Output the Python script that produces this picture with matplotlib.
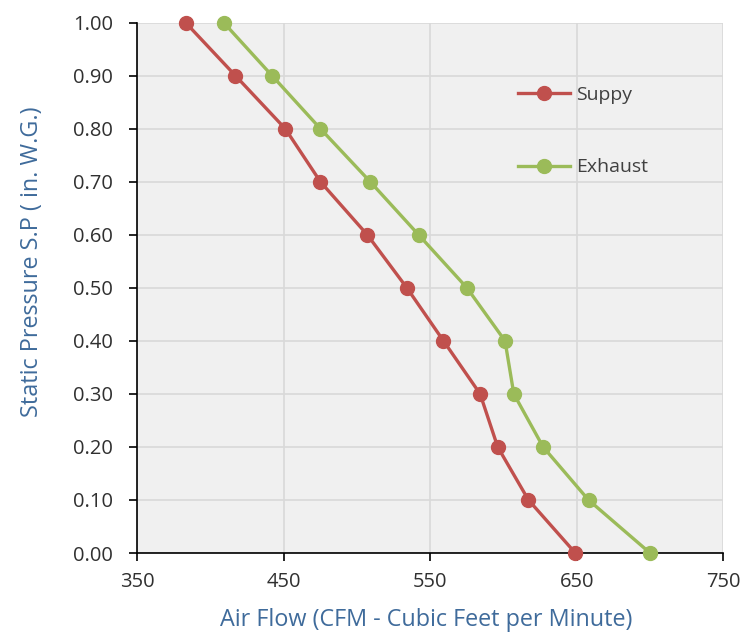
import matplotlib
matplotlib.use("Agg")
import matplotlib.pyplot as plt

pressure = [1.00, 0.90, 0.80, 0.70, 0.60, 0.50, 0.40, 0.30, 0.20, 0.10, 0.00]
supply_cfm = [383, 417, 451, 475, 507, 534, 559, 584, 596, 617, 649]
exhaust_cfm = [409, 442, 475, 509, 542, 575, 601, 607, 627, 658, 700]
x_ticks = [350, 450, 550, 650, 750]
y_ticks = [0.0, 0.1, 0.2, 0.3, 0.4, 0.5, 0.6, 0.7, 0.8, 0.9, 1.0]

plt.rcParams['font.family'] = ['Open Sans', 'DejaVu Sans']

fig = plt.figure(figsize=(7.54, 6.35), dpi=100)
ax = fig.add_axes([0.1821, 0.1291, 0.7772, 0.8352])
ax.set_facecolor('#f0f0f0')

red = '#c0504d'
green = '#9bbb59'
ax.plot(supply_cfm, pressure, color=red, lw=2.4, marker='o', ms=10, label='Suppy', clip_on=False, zorder=3)
ax.plot(exhaust_cfm, pressure, color=green, lw=2.4, marker='o', ms=10, label='Exhaust', clip_on=False, zorder=3)

ax.set_xlim(350, 750)
ax.set_ylim(0, 1.0)
ax.set_xticks(x_ticks)
ax.set_yticks(y_ticks)
ax.set_yticklabels([f"{v:.2f}" for v in y_ticks])
ax.grid(True, color='#d9d9d9', lw=1.2)
ax.set_axisbelow(True)
for s in ['top', 'right']:
    ax.spines[s].set_visible(False)
for s in ['left', 'bottom']:
    ax.spines[s].set_color('#000000')
    ax.spines[s].set_linewidth(1.2)
ax.tick_params(axis='both', direction='out', length=6, width=1.2, color='#000000',
               labelsize=14.5, labelcolor='#303030')
ax.tick_params(axis='y', pad=11.5)
ax.tick_params(axis='x', pad=8)

lab_color = '#3f6b9b'
ax.set_xlabel('Air Flow (CFM - Cubic Feet per Minute)', fontsize=16.8, color=lab_color)
ax.set_ylabel('Static Pressure S.P ( in. W.G.)', fontsize=16.8, color=lab_color)
ax.xaxis.set_label_coords(0.493, -0.126)
ax.xaxis.label.set_va('center')
ax.yaxis.set_label_coords(-0.179, 0.549)
ax.yaxis.label.set_va('center')

leg = ax.legend(loc='upper left', bbox_to_anchor=(0.633, 0.899), frameon=False,
                handlelength=2.7, handletextpad=0.3, labelspacing=2.8,
                fontsize=14, borderpad=0)
for t in leg.get_texts():
    t.set_color('#404040')

fig.savefig('out.png', dpi=100)
